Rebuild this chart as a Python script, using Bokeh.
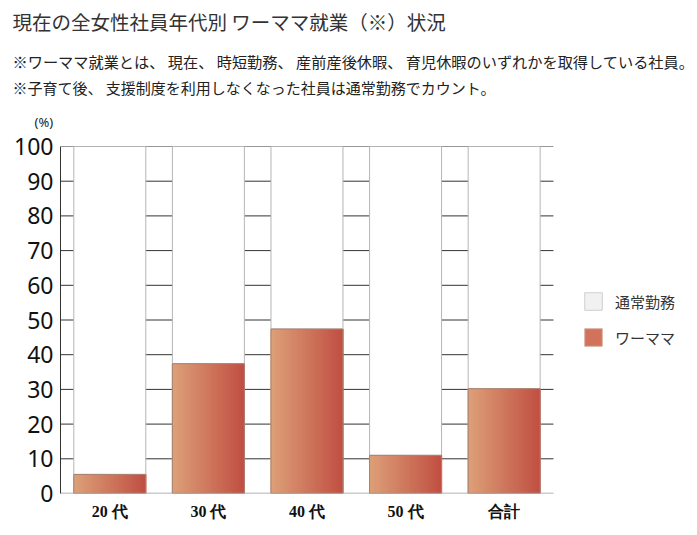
from bokeh.plotting import figure
from bokeh.models import (Range1d, ColumnDataSource, Title, Legend,
                          LegendItem, FixedTicker)
from bokeh.embed import file_html
from bokeh.resources import INLINE

# ---- data ----
categories = ["20 代", "30 代", "40 代", "50 代", "合計"]
working_mom = [5.5, 37.4, 47.4, 11.0, 30.2]
regular = [94.5, 62.6, 52.6, 89.0, 69.8]
y_ticks = [0, 10, 20, 30, 40, 50, 60, 70, 80, 90, 100]
series_names = ["通常勤務", "ワーママ"]

title_text = "現在の全女性社員年代別 ワーママ就業（※）状況"
note1 = "※ワーママ就業とは、 現在、 時短勤務、 産前産後休暇、 育児休暇のいずれかを取得している社員。"
note2 = "※子育て後、 支援制度を利用しなくなった社員は通常勤務でカウント。"
unit_label = "(%)"

# ---- style / layout ----
CJK = "Noto Sans CJK JP"
BAR_W = 0.73
LEFT_RGB = (221, 160, 120)
RIGHT_RGB = (193, 80, 67)
N_STRIPS = 36
LEGEND_SPACE = 1.39          # extra x-room (in category widths) for the legend

n = len(categories)
pos = list(range(n))
x_lo, x_hi = -0.5, n - 0.5

src = ColumnDataSource(dict(
    x=pos,
    wm=working_mom,
    total=[a + b for a, b in zip(working_mom, regular)],
))

p = figure(
    x_range=Range1d(x_lo, x_hi + LEGEND_SPACE),
    y_range=Range1d(0, 100),
    width=693, height=533,
    output_backend="svg", toolbar_location=None,
    min_border_left=60, min_border_right=3,
    min_border_top=146, min_border_bottom=40,
)
p.outline_line_color = None
p.background_fill_color = "white"
p.border_fill_color = "white"
p.xgrid.grid_line_color = None
p.ygrid.grid_line_color = None

# horizontal grid lines (only across the category area)
grid_vals = [v for v in y_ticks if v > 0]
p.segment(x0=[x_lo] * len(grid_vals), x1=[x_hi] * len(grid_vals),
          y0=grid_vals, y1=grid_vals, line_color="#333333", line_width=1)

# white (regular) stacked part
p.vbar(x="x", bottom="wm", top="total", width=BAR_W, source=src,
       fill_color="white", line_color="#b5b5b5", line_width=1)

# gradient working-mom bars built from thin strips
for i in range(N_STRIPS):
    t = i / (N_STRIPS - 1)
    rgb = tuple(int(round(l + (r - l) * t)) for l, r in zip(LEFT_RGB, RIGHT_RGB))
    col = "#%02x%02x%02x" % rgb
    off = -BAR_W / 2 + (i + 0.5) * BAR_W / N_STRIPS
    s = ColumnDataSource(dict(x=[v + off for v in pos], wm=working_mom))
    p.vbar(x="x", top="wm", bottom=0, width=BAR_W / N_STRIPS * 1.6, source=s,
           fill_color=col, line_color=None)
p.vbar(x="x", top="wm", bottom=0, width=BAR_W, source=src,
       fill_color=None, line_color="#a88272", line_width=1)

# legend swatch proxies (zero-size, hidden under the baseline)
proxy_src = ColumnDataSource(dict(x=pos, y=[0] * n))
r_reg = p.vbar(x="x", top="y", bottom="y", width=0, source=proxy_src,
               fill_color="#f1f1f1", line_color="#d0d0d0")
r_wm = p.vbar(x="x", top="y", bottom="y", width=0, source=proxy_src,
              fill_color="#d0735a", line_color="#ddb0a0")

# baseline (x axis line limited to category area)
p.segment(x0=[x_lo], x1=[x_hi], y0=[0], y1=[0],
          line_color="#999999", line_width=1.6)

legend = Legend(items=[LegendItem(label=series_names[0], renderers=[r_reg]),
                       LegendItem(label=series_names[1], renderers=[r_wm])],
                location=(522, 145), glyph_width=22, glyph_height=22,
                label_standoff=11, spacing=14, padding=0, margin=0,
                border_line_color=None, background_fill_alpha=0,
                label_text_font=CJK, label_text_font_size="15px",
                label_text_color="#333333", label_height=22)
p.add_layout(legend, "center")

# axes
p.yaxis.ticker = FixedTicker(ticks=y_ticks)
p.yaxis.major_label_text_font = "Noto Sans"
p.yaxis.major_label_text_font_size = "23px"
p.yaxis.major_label_text_color = "#111111"
p.yaxis.major_tick_line_color = None
p.yaxis.major_tick_out = 0
p.yaxis.minor_tick_line_color = None
p.yaxis.axis_line_color = "#333333"
p.yaxis.major_label_standoff = 7

p.xaxis.ticker = FixedTicker(ticks=pos)
p.xaxis.major_label_overrides = {i: c for i, c in zip(pos, categories)}
p.xaxis.major_label_text_font = "Liberation Serif"
p.xaxis.major_label_text_font_style = "bold"
p.xaxis.major_label_text_font_size = "16px"
p.xaxis.major_label_text_color = "#111111"
p.xaxis.major_tick_line_color = None
p.xaxis.minor_tick_line_color = None
p.xaxis.axis_line_color = None
p.xaxis.major_label_standoff = 3


def spacer(px):
    return Title(text=" ", text_font_size="1px", standoff=max(px - 3.5, 0))


def title(text, size, font=CJK, color="#222222", offset=-48):
    return Title(text=text, align="left", offset=offset, standoff=0,
                 text_font=font, text_font_size=size,
                 text_font_style="normal", text_color=color)


# titles (first added = closest to the frame)
p.add_layout(spacer(16), "above")
p.add_layout(title(unit_label, "13px", font="Noto Sans", offset=-26), "above")
p.add_layout(spacer(13), "above")
p.add_layout(title(note2, "15px"), "above")
p.add_layout(spacer(3.5), "above")
p.add_layout(title(note1, "15.2px"), "above")
p.add_layout(spacer(12.7), "above")
p.add_layout(title(title_text, "19.5px", color="#333333"), "above")

open("out.html", "w").write(file_html(p, INLINE))
